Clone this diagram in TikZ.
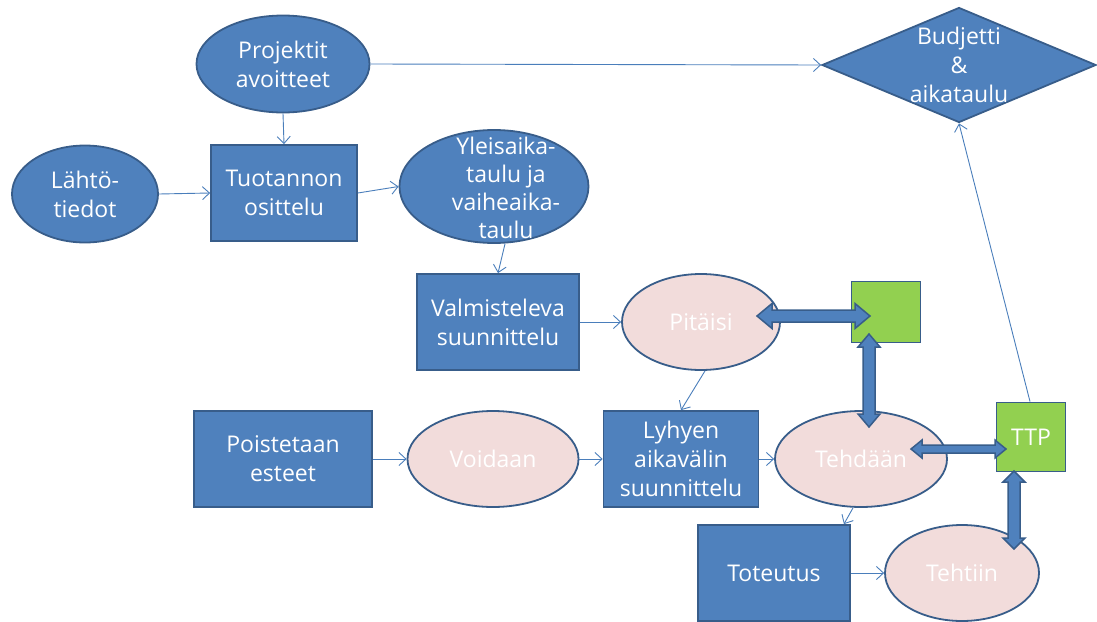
\documentclass[tikz,border=0pt]{standalone}
\usepackage{fontspec}
\setmainfont{Open Sans}
\usetikzlibrary{shapes.geometric,arrows.meta,calc}
\definecolor{bfill}{HTML}{4F81BD}
\definecolor{bdr}{HTML}{385D8A}
\definecolor{pinkf}{HTML}{F2DCDB}
\definecolor{grnf}{HTML}{92D050}
\definecolor{lnc}{HTML}{4A7EBB}
\newcommand\txtfont{\fontsize{23}{29}\selectfont}
\newcommand\hdbl[5]{%
  \draw[blk] let \p1=(#1), \p2=(#2) in (\x1,\y1) -- (\x1+#3pt,\y1+#4pt) -- (\x1+#3pt,\y1+#5pt) -- (\x2-#3pt,\y1+#5pt) -- (\x2-#3pt,\y1+#4pt) -- (\x2,\y1) -- (\x2-#3pt,\y1-#4pt) -- (\x2-#3pt,\y1-#5pt) -- (\x1+#3pt,\y1-#5pt) -- (\x1+#3pt,\y1-#4pt) -- cycle;}
\newcommand\vdbl[5]{%
  \draw[blk] let \p1=(#1), \p2=(#2) in (\x1,\y1) -- (\x1+#4pt,\y1-#3pt) -- (\x1+#5pt,\y1-#3pt) -- (\x1+#5pt,\y2+#3pt) -- (\x1+#4pt,\y2+#3pt) -- (\x1,\y2) -- (\x1-#4pt,\y2+#3pt) -- (\x1-#5pt,\y2+#3pt) -- (\x1-#5pt,\y1-#3pt) -- (\x1-#4pt,\y1-#3pt) -- cycle;}
\tikzset{
  base/.style={draw=bdr, fill=bfill, line width=1.8pt, text=white, align=center, font=\txtfont, inner sep=0pt},
  box/.style={base, rectangle},
  ell/.style={base, ellipse},
  pinkell/.style={ell, fill=pinkf},
  grnbox/.style={box, fill=grnf},
  conn/.style={draw=lnc, line width=0.9pt, -{Straight Barb[length=7pt,width=13pt]}},
  blk/.style={draw=bdr, fill=bfill, line width=1.5pt, line join=miter},
  txtlab/.style={text=white, align=center, font=\txtfont}
}
\begin{document}
\begin{tikzpicture}[x={(1pt,0)}, y={(0,-1pt)}]
\useasboundingbox (0,0) rectangle (1097,621);
% nodes
\node[ell, minimum width=173pt, minimum height=97pt] (proj) at (283,64) {Projektit\\avoitteet};
\node[base, diamond, minimum width=274pt, minimum height=115pt,
      label={[txtlab]center:Budjetti\\\&\\aikataulu}] (bud) at (959,65) {};
\node[ell, minimum width=146pt, minimum height=97pt] (lah) at (85,194) {Lähtö-\\tiedot};
\node[box, minimum width=146pt, minimum height=96pt] (tuot) at (284,193) {Tuotannon\\osittelu};
\node[ell, minimum width=189pt, minimum height=113pt,
      label={[txtlab, font=\fontsize{23}{28}\selectfont, xshift=12pt, yshift=-1pt]center:Yleisaika-\\taulu ja\\vaiheaika-\\taulu}] (yle) at (494,186.5) {};
\node[box, minimum width=162pt, minimum height=96pt] (valm) at (498,322) {Valmisteleva\\suunnittelu};
\node[pinkell, minimum width=158pt, minimum height=96pt] (pit) at (701,322) {Pitäisi};
\node[grnbox, minimum width=69pt, minimum height=61pt] (g1) at (886,312) {};
\node[box, minimum width=178pt, minimum height=96pt] (pois) at (283,459) {Poistetaan\\esteet};
\node[pinkell, minimum width=171pt, minimum height=96pt] (voi) at (493,459) {Voidaan};
\node[box, minimum width=155pt, minimum height=96pt] (lyh) at (681,459) {Lyhyen\\aikavälin\\suunnittelu};
\node[pinkell, minimum width=172pt, minimum height=96pt] (teh) at (861,459) {Tehdään};
\node[grnbox, minimum width=69pt, minimum height=69pt] (ttp) at (1031,437) {TTP};
\node[box, minimum width=152pt, minimum height=96pt] (tot) at (774,573) {Toteutus};
\node[pinkell, minimum width=154pt, minimum height=96pt] (tehtiin) at (962,573) {Tehtiin};
% thin connectors
\draw[conn] (proj.south) -- (tuot.north);
\draw[conn] (proj.east) -- (bud.west);
\draw[conn] (lah.east) -- (tuot.west);
\draw[conn] (tuot.east) -- (yle.west);
\draw[conn] ([xshift=11pt]yle.south) -- (valm.north);
\draw[conn] (valm.east) -- (pit.west);
\draw[conn] ([xshift=4pt]pit.south) -- (lyh.north);
\draw[conn] (pois.east) -- (voi.west);
\draw[conn] (voi.east) -- (lyh.west);
\draw[conn] (lyh.east) -- (teh.west);
\draw[conn] ([xshift=-8pt]teh.south) -- ([xshift=-7pt]tot.north east);
\draw[conn] (tot.east) -- (tehtiin.west);
\draw[conn] ([xshift=-1pt]ttp.north) -- (bud.south);
% block double arrows
\coordinate (b1l) at (757,316);
\coordinate (b1r) at (870,316);
\coordinate (b2t) at (869,334);
\coordinate (b2b) at (869,427);
\coordinate (b3l) at (911,449);
\coordinate (b3r) at (1006,449);
\coordinate (b4t) at (1014,471);
\coordinate (b4b) at (1014,549);
\hdbl{b1l}{b1r}{15}{12.5}{6}
\vdbl{b2t}{b2b}{13}{11}{6}
\hdbl{b3l}{b3r}{11}{9}{4}
\vdbl{b4t}{b4b}{11}{11}{6}
\end{tikzpicture}
\end{document}
